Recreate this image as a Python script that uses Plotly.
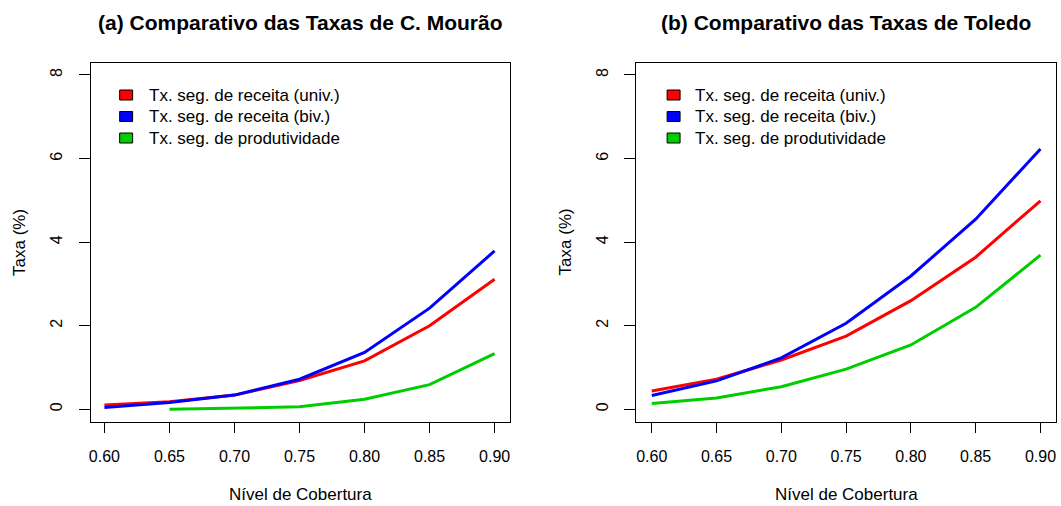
import plotly.graph_objects as go

W, H = 1061, 506

cobertura = [0.60, 0.65, 0.70, 0.75, 0.80, 0.85, 0.90]
x_ticks = [0.60, 0.65, 0.70, 0.75, 0.80, 0.85, 0.90]
y_ticks = [0, 2, 4, 6, 8]

# (a) C. Mourão
mourao_univ = [0.10, 0.18, 0.34, 0.69, 1.16, 2.00, 3.11]
mourao_biv = [0.04, 0.16, 0.34, 0.72, 1.36, 2.42, 3.79]
mourao_prod = [None, 0.00, 0.03, 0.06, 0.24, 0.59, 1.33]

# (b) Toledo
toledo_univ = [0.44, 0.72, 1.18, 1.75, 2.60, 3.64, 4.99]
toledo_biv = [0.33, 0.68, 1.23, 2.06, 3.19, 4.55, 6.23]
toledo_prod = [0.14, 0.27, 0.54, 0.96, 1.54, 2.44, 3.69]

series_names = ["Tx. seg. de receita (univ.)", "Tx. seg. de receita (biv.)",
                "Tx. seg. de produtividade"]
colors = ["#FF0000", "#0000FF", "#00CD00"]
titles = ["(a) Comparativo das Taxas de C. Mourão",
          "(b) Comparativo das Taxas de Toledo"]

FONT = "Liberation Sans, Arial, sans-serif"

fig = go.Figure()

panels = [
    ("x", "y", [mourao_univ, mourao_biv, mourao_prod]),
    ("x2", "y2", [toledo_univ, toledo_biv, toledo_prod]),
]

for xa, ya, data in panels:
    for name, vals, col in zip(series_names, data, colors):
        fig.add_trace(go.Scatter(
            x=cobertura, y=vals, mode="lines", xaxis=xa, yaxis=ya, name=name,
            line=dict(color=col, width=3), showlegend=False,
            connectgaps=False, hoverinfo="skip"))

def px_x(p):
    return p / W

def px_y(p):
    return 1 - p / H

dom_y = [px_y(422), px_y(63)]
x_doms = [[px_x(89), px_x(509)], [px_x(636), px_x(1057)]]
x_ranges = [[0.5895, 0.9115], [0.588, 0.912]]
y_range = [-0.304, 8.287]

axis_common = dict(
    showline=True, mirror=True, linecolor="black", linewidth=1,
    showgrid=False, zeroline=False, ticks="outside", tickcolor="black",
    tickwidth=1, tickfont=dict(family=FONT, size=16, color="black"),
)

for i, (xd, xr) in enumerate(zip(x_doms, x_ranges)):
    sx = "" if i == 0 else "2"
    fig.update_layout(**{
        f"xaxis{sx}": dict(axis_common, domain=xd, range=xr, anchor=f"y{sx}",
                           tickvals=x_ticks, tickformat=".2f", ticklen=10,
                           ticklabelstandoff=10),
        f"yaxis{sx}": dict(axis_common, domain=dom_y, range=y_range,
                           anchor=f"x{sx}", tickvals=y_ticks, ticklen=11,
                           tickangle=-90, ticklabelstandoff=10),
    })

annotations = []
shapes = []
centers = [(89 + 509) / 2, (636 + 1057) / 2]
ylab_x = [17, 565]
legend_box_x = [118, 667]
legend_text_x = [145, 693]
legend_rows = [95, 116.5, 138]
for i in range(2):
    annotations.append(dict(
        text=f"<b>{titles[i]}</b>", x=px_x(centers[i]), y=px_y(23),
        xref="paper", yref="paper", xanchor="center", yanchor="middle",
        showarrow=False, font=dict(family=FONT, size=21, color="black")))
    annotations.append(dict(
        text="Nível de Cobertura", x=px_x(centers[i]), y=px_y(494),
        xref="paper", yref="paper", xanchor="center", yanchor="middle",
        showarrow=False, font=dict(family=FONT, size=17, color="black")))
    annotations.append(dict(
        text="Taxa (%)", x=px_x(ylab_x[i]), y=px_y(242), textangle=-90,
        xref="paper", yref="paper", xanchor="center", yanchor="middle",
        showarrow=False, font=dict(family=FONT, size=17, color="black")))
    # legend (R-style filled boxes)
    for name, col, ry in zip(series_names, colors, legend_rows):
        bx = legend_box_x[i]
        shapes.append(dict(
            type="rect", xref="paper", yref="paper",
            x0=px_x(bx), x1=px_x(bx + 13), y0=px_y(ry + 5), y1=px_y(ry - 5),
            fillcolor=col, line=dict(color="black", width=1)))
        annotations.append(dict(
            text=name, x=px_x(legend_text_x[i]), y=px_y(ry),
            xref="paper", yref="paper", xanchor="left", yanchor="middle",
            showarrow=False, font=dict(family=FONT, size=17, color="black")))

fig.update_layout(
    width=W, height=H,
    margin=dict(l=0, r=0, t=0, b=0),
    paper_bgcolor="white", plot_bgcolor="white",
    annotations=annotations, shapes=shapes, showlegend=False,
)

fig.write_html("out.html")
